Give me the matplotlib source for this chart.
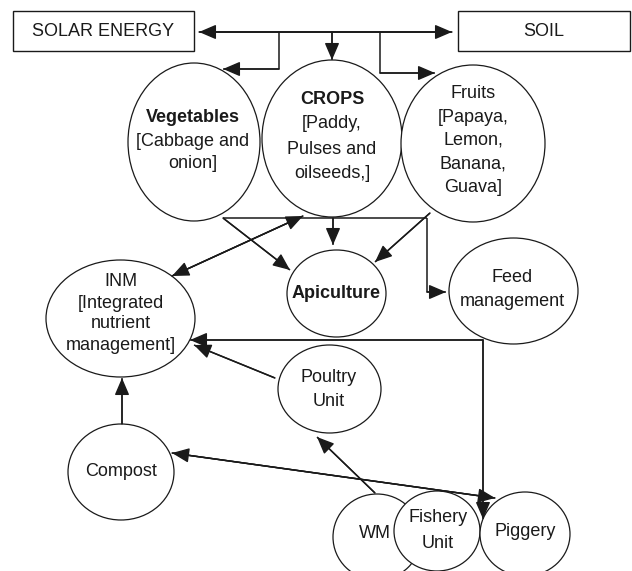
import matplotlib
matplotlib.use("Agg")
import matplotlib.pyplot as plt
from matplotlib import font_manager
from matplotlib.patches import Ellipse, Rectangle, FancyArrowPatch

_names = {f.name for f in font_manager.fontManager.ttflist}
if "Liberation Sans Narrow" in _names:
    FAM, FS = "Liberation Sans Narrow", 15.0
else:
    FAM, FS = "Liberation Sans", 13.0
plt.rcParams['font.family'] = [FAM, 'DejaVu Sans']

# ---------------- content ----------------
box_names = ["solar", "soil"]
box_labels = ["SOLAR ENERGY", "SOIL"]

node_names = ["veg", "crops", "fruits", "apiculture", "feed", "inm",
              "poultry", "compost", "wm", "fishery", "piggery"]
node_lines = [
    ["Vegetables", "[Cabbage and", "onion]"],
    ["CROPS", "[Paddy,", "Pulses and", "oilseeds,]"],
    ["Fruits", "[Papaya,", "Lemon,", "Banana,", "Guava]"],
    ["Apiculture"],
    ["Feed", "management"],
    ["INM", "[Integrated", "nutrient", "management]"],
    ["Poultry", "Unit"],
    ["Compost"],
    ["WM"],
    ["Fishery", "Unit"],
    ["Piggery"],
]
node_bold_first = [True, True, False, True, False, False, False, False, False, False, False]

# ---------------- layout (pixels, y down) ----------------
box_geom = {"solar": (13, 11, 181, 40), "soil": (458, 11, 172, 40)}
box_text = {"solar": (103, 32), "soil": (544, 32)}

ell_geom = {  # cx, cy, w, h
    "veg": (194, 142, 132, 158),
    "crops": (332, 138.5, 140, 157),
    "fruits": (473, 143.5, 144, 157),
    "apiculture": (336.5, 293.5, 99, 87),
    "feed": (513.5, 291, 129, 106),
    "inm": (120.5, 318.5, 149, 117),
    "poultry": (329.5, 389, 103, 88),
    "compost": (121, 472, 106, 96),
    "wm": (377, 537, 88, 86),
    "fishery": (437, 531, 86, 80),
    "piggery": (525, 534, 90, 84),
}
text_pos = {  # x, list of line y's
    "veg": (193, [118, 142, 164]),
    "crops": (332, [100, 124, 150, 173]),
    "fruits": (473, [93, 117, 140, 164, 188]),
    "apiculture": (336, [293]),
    "feed": (512, [278, 302]),
    "inm": (121, [281, 303, 324, 346]),
    "poultry": (329, [378, 402]),
    "compost": (121, [472]),
    "wm": (375, [533]),
    "fishery": (438, [518, 543]),
    "piggery": (525, [532]),
}

# connectors: polyline points, head at start?, head at end?
connectors = [
    ([(199, 32), (452, 32)], True, True),
    ([(279, 32), (279, 69), (223, 69)], False, True),
    ([(332, 32), (332, 60)], False, True),
    ([(380, 32), (380, 73), (435, 73)], False, True),
    ([(223, 218), (427, 218)], False, False),
    ([(223, 218), (290, 270)], False, True),
    ([(333, 218), (333, 245)], False, True),
    ([(430, 213), (375, 262)], False, True),
    ([(427, 218), (427, 292), (446, 292)], False, True),
    ([(172, 276), (303, 216)], True, True),
    ([(190, 340), (483, 340), (483, 519)], True, True),
    ([(275, 378), (194, 345)], False, True),
    ([(122, 424), (122, 378)], False, True),
    ([(172, 453), (495, 498)], True, True),
    ([(375, 493), (317, 437)], False, True),
]

W, H = 632, 571
fig = plt.figure(figsize=(W / 100, H / 100), dpi=100)
ax = fig.add_axes([0, 0, 1, 1])
ax.set_xlim(0, W)
ax.set_ylim(H, 0)
ax.axis("off")

LC = "#1a1a1a"

for name, lab in zip(box_names, box_labels):
    x, y, w, h = box_geom[name]
    ax.add_patch(Rectangle((x, y), w, h, facecolor="white", edgecolor=LC, lw=1.0, zorder=2))
    tx, ty = box_text[name]
    ax.text(tx, ty, lab, ha="center", va="center", fontsize=FS, color=LC, zorder=5)

for name, lines, bold in zip(node_names, node_lines, node_bold_first):
    cx, cy, w, h = ell_geom[name]
    ax.add_patch(Ellipse((cx, cy), w, h, facecolor="white", edgecolor=LC, lw=0.9, zorder=2))
    tx, ys = text_pos[name]
    for i, (line, ty) in enumerate(zip(lines, ys)):
        ax.text(tx, ty, line, ha="center", va="center", fontsize=FS, color=LC,
                fontweight="bold" if (bold and i == 0) else "normal", zorder=5)

style = "-|>,head_length=0.7,head_width=0.3"
for pts, hstart, hend in connectors:
    xs = [p[0] for p in pts]
    ys = [p[1] for p in pts]
    ax.plot(xs, ys, color=LC, lw=1.1, zorder=3, solid_capstyle="butt")
    if hend:
        ax.add_patch(FancyArrowPatch(pts[-2], pts[-1], arrowstyle=style, mutation_scale=15,
                                     color=LC, lw=1.0, shrinkA=0, shrinkB=0, zorder=4))
    if hstart:
        ax.add_patch(FancyArrowPatch(pts[1], pts[0], arrowstyle=style, mutation_scale=15,
                                     color=LC, lw=1.0, shrinkA=0, shrinkB=0, zorder=4))

fig.savefig("out.png", dpi=100, facecolor="white")
